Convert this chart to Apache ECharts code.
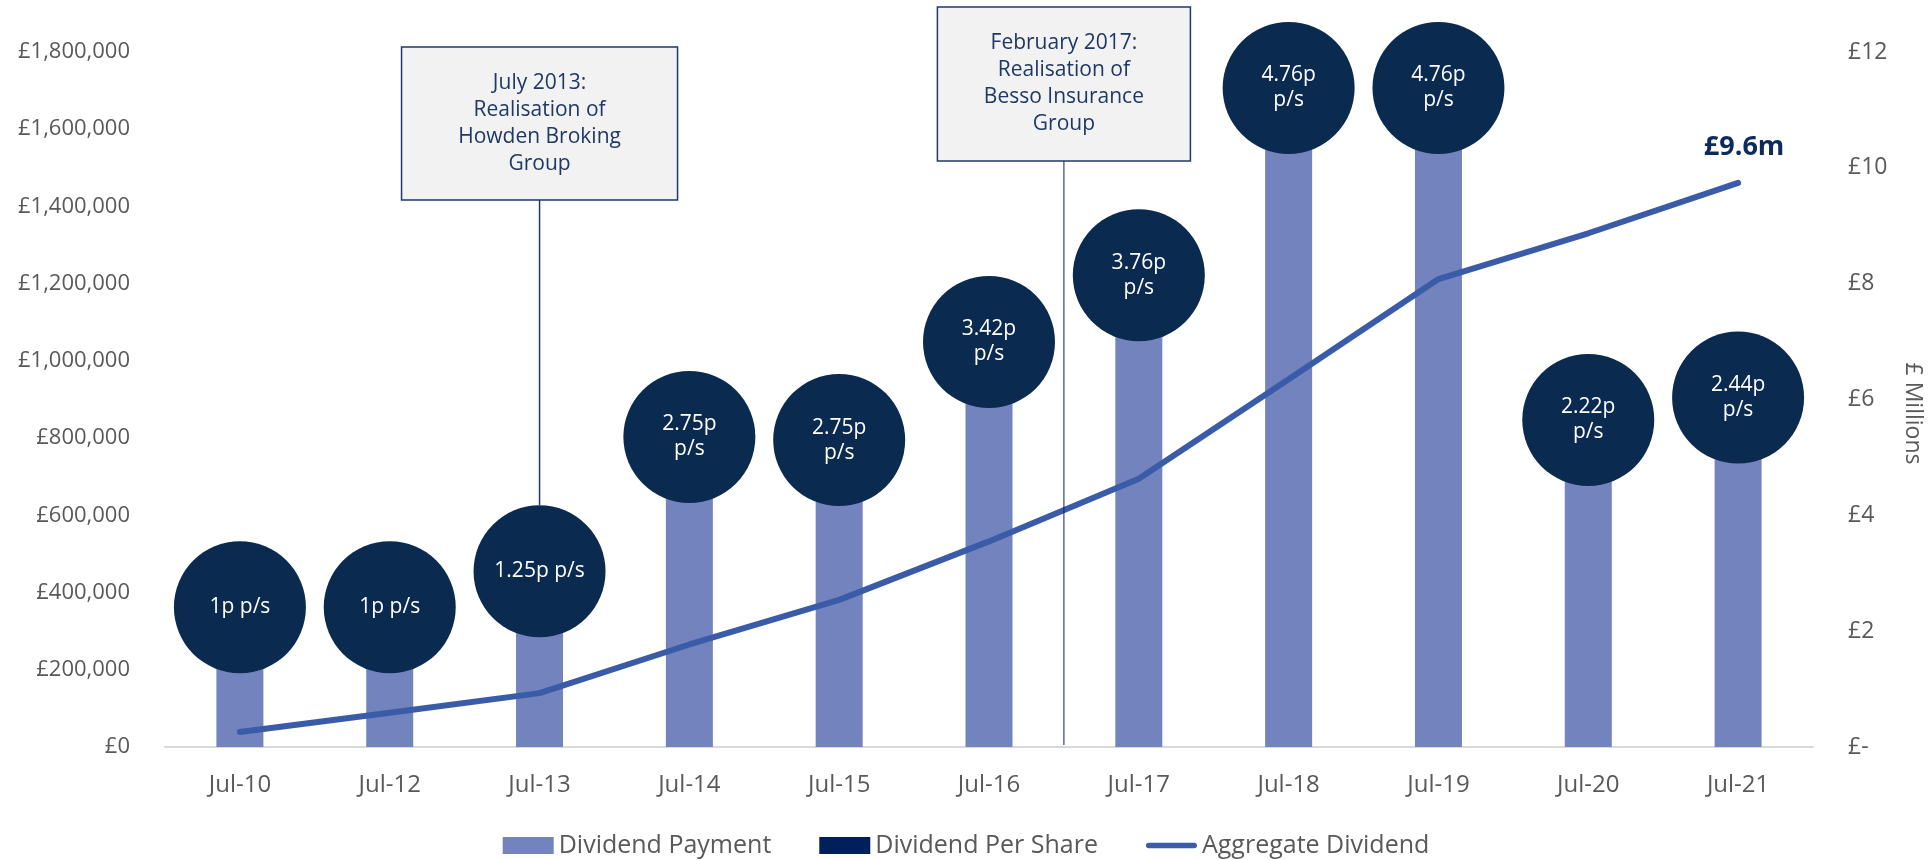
<!DOCTYPE html>
<html>
<head>
<meta charset="utf-8">
<script src="https://cdn.jsdelivr.net/npm/echarts@6/dist/echarts.min.js"></script>
<style>
  html, body { margin: 0; padding: 0; background: #fff; }
  #main { width: 1932px; height: 860px; }
</style>
</head>
<body>
<div id="main"></div>
<script>
  var categories = ['Jul-10', 'Jul-12', 'Jul-13', 'Jul-14', 'Jul-15', 'Jul-16', 'Jul-17', 'Jul-18', 'Jul-19', 'Jul-20', 'Jul-21'];
  // dividend paid each year (£)
  var dividendPayment = [362000, 362000, 455000, 803000, 795000, 1049000, 1222000, 1707000, 1707000, 847000, 905000];
  // dividend per share labels shown in the circles
  var dpsLabels = ['1p p/s', '1p p/s', '1.25p p/s', '2.75p\np/s', '2.75p\np/s', '3.42p\np/s', '3.76p\np/s', '4.76p\np/s', '4.76p\np/s', '2.22p\np/s', '2.44p\np/s'];
  // cumulative dividend (£ millions)
  var aggregateDividend = [0.26, 0.59, 0.93, 1.77, 2.54, 3.55, 4.63, 6.35, 8.08, 8.87, 9.74];
  var leftTicks = { min: 0, max: 1800000, interval: 200000 };
  var rightTicks = { min: 0, max: 12, interval: 2 };
  var finalLabel = '£9.6m';

  var FONT = '"Open Sans", "Noto Sans", sans-serif';
  var GREY = '#595959';
  var NAVY = '#1F3864';

  var chart = echarts.init(document.getElementById('main'));

  var last = aggregateDividend.length - 1;

  var option = {
    animation: false,
    textStyle: { fontFamily: FONT },
    grid: { left: 165, right: 100, top: 52, bottom: 113 },
    legend: {
      left: 'center',
      top: 828,
      itemWidth: 51,
      itemHeight: 17,
      itemGap: 48,
      symbolKeepAspect: true,
      textStyle: { color: GREY, fontSize: 25, fontFamily: FONT },
      data: [
        { name: 'Dividend Payment', icon: 'rect' },
        { name: 'Dividend Per Share', icon: 'rect', itemStyle: { color: '#001F5B' } },
        {
          name: 'Aggregate Dividend',
          icon: 'path://M3,0 L53,0 A3,3 0 0 1 53,6 L3,6 A3,3 0 0 1 3,0 Z',
          itemStyle: { color: '#3A5BA8' }
        }
      ]
    },
    xAxis: {
      type: 'category',
      data: categories,
      axisLine: { lineStyle: { color: '#D9D9D9', width: 2 } },
      axisTick: { length: 9, lineStyle: { color: '#D9D9D9', width: 2 } },
      axisLabel: { color: GREY, fontSize: 24, margin: 26, fontFamily: FONT }
    },
    yAxis: [
      {
        type: 'value',
        min: leftTicks.min,
        max: leftTicks.max,
        interval: leftTicks.interval,
        splitLine: { show: false },
        axisLine: { show: false },
        axisLabel: {
          color: GREY, fontSize: 22, margin: 35, fontFamily: FONT,
          formatter: function (v) { return '£' + v.toLocaleString('en-GB'); }
        }
      },
      {
        type: 'value',
        position: 'right',
        min: rightTicks.min,
        max: rightTicks.max,
        interval: rightTicks.interval,
        splitLine: { show: false },
        axisLine: { show: false },
        axisLabel: {
          color: GREY, fontSize: 23, margin: 35, fontFamily: FONT,
          formatter: function (v) { return v === 0 ? '£-' : '£' + v; }
        },
        name: '£ Millions',
        nameLocation: 'middle',
        nameRotate: -90,
        nameGap: 88,
        nameTextStyle: { color: GREY, fontSize: 23, fontFamily: FONT, padding: [0, 0, 0, 28] }
      }
    ],
    series: [
      {
        name: 'Dividend Payment',
        type: 'bar',
        data: dividendPayment,
        barWidth: 47,
        itemStyle: { color: '#7283BD' },
        z: 2
      },
      {
        name: 'Aggregate Dividend',
        type: 'line',
        yAxisIndex: 1,
        data: aggregateDividend,
        symbol: 'none',
        lineStyle: { color: '#3A5BA8', width: 6, cap: 'round', join: 'round' },
        itemStyle: { color: '#3A5BA8' },
        markPoint: {
          symbol: 'circle',
          symbolSize: 1,
          itemStyle: { color: 'rgba(0,0,0,0)' },
          label: {
            show: true, position: 'top', distance: 22, offset: [6, 0],
            formatter: finalLabel, color: '#0D2A5C', fontSize: 27, fontWeight: 'bold', fontFamily: FONT
          },
          data: [{ coord: [categories[last], aggregateDividend[last]] }]
        },
        z: 3
      },
      {
        name: 'Dividend Per Share',
        type: 'scatter',
        data: dividendPayment,
        symbolSize: 132,
        itemStyle: { color: '#0B2A4F', opacity: 1 },
        label: {
          show: true,
          position: 'inside',
          color: '#fff',
          fontSize: 21,
          lineHeight: 25,
          fontFamily: FONT,
          formatter: function (p) { return dpsLabels[p.dataIndex]; }
        },
        z: 4
      }
    ]
  };

  chart.setOption(option);

  // annotation boxes, placed from the axis scales
  var x13 = chart.convertToPixel({ xAxisIndex: 0 }, categories[2]);
  var x16 = chart.convertToPixel({ xAxisIndex: 0 }, categories[5]);
  var x17 = chart.convertToPixel({ xAxisIndex: 0 }, categories[6]);
  var xb = (x16 + x17) / 2;
  var yTop13 = chart.convertToPixel({ yAxisIndex: 0 }, dividendPayment[2]) - 66;
  var yBase = chart.convertToPixel({ yAxisIndex: 0 }, 0);

  function box(cx, top, w, h, text) {
    return [
      {
        type: 'rect', z: 10,
        shape: { x: cx - w / 2, y: top, width: w, height: h },
        style: { fill: '#F2F2F2', stroke: NAVY, lineWidth: 1.5 }
      },
      {
        type: 'text', z: 11,
        x: cx, y: top + h / 2,
        style: {
          text: text, fill: NAVY, font: '21px ' + FONT, lineHeight: 27,
          textAlign: 'center', textVerticalAlign: 'middle'
        }
      }
    ];
  }

  var graphics = []
    .concat(box(x13, 47, 276, 153, 'July 2013:\nRealisation of\nHowden Broking\nGroup'))
    .concat(box(xb, 7, 253, 154, 'February 2017:\nRealisation of\nBesso Insurance\nGroup'));
  graphics.push({
    type: 'line', z: 9,
    shape: { x1: x13, y1: 200, x2: x13, y2: yTop13 },
    style: { stroke: NAVY, lineWidth: 1.5 }
  });
  graphics.push({
    type: 'line', z: 9,
    shape: { x1: xb, y1: 161, x2: xb, y2: yBase - 2 },
    style: { stroke: '#0B1F5C', lineWidth: 1 }
  });

  chart.setOption({ graphic: graphics });
</script>
</body>
</html>
